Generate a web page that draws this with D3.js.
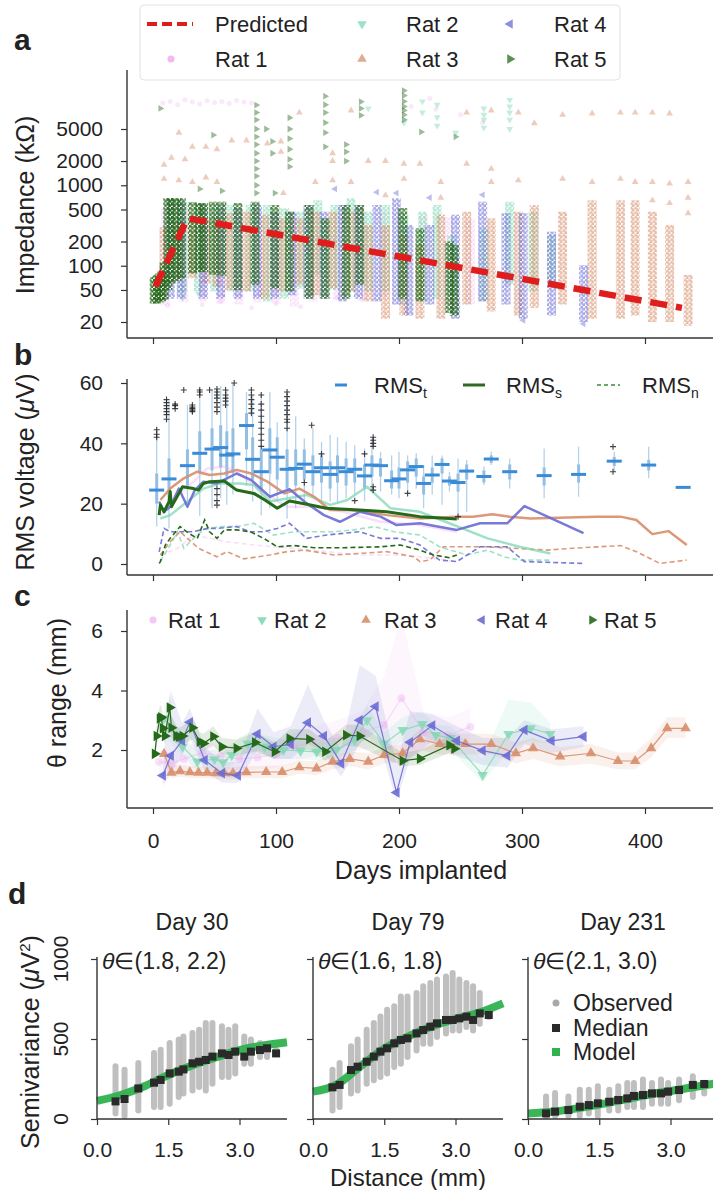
<!DOCTYPE html>
<html>
<head>
<meta charset="utf-8">
<script src="https://cdn.jsdelivr.net/npm/d3@7"></script>
<style>
body { margin: 0; background: #fff; }
svg text { font-family: "Liberation Sans", Arial, Helvetica, sans-serif; fill: #222; }
</style>
</head>
<body>
<div id="figure"></div>
<script>
// ---- shared ----
var dayTicks = [0, 100, 200, 300, 400];
var ratNames = ['Rat 1', 'Rat 2', 'Rat 3', 'Rat 4', 'Rat 5'];
var ratColors = ['#eda3ee', '#7fd7b3', '#d78e6b', '#6a6cd3', '#25691a'];

// ---- panel a: impedance ----
var impTicks = [20, 50, 100, 200, 500, 1000, 2000, 5000];
var predictedDays = [2, 28, 430];
var predictedKOhm = [55, 390, 30];

var impDays1 = [10, 25, 40, 55, 70, 85, 100, 115, 130, 150, 170, 188, 202, 220, 240, 258];
var impLo1 = [32, 35, 36, 34, 33, 35, 34, 31, 36, 38, 37, 40, 38, 36, 35, 33];
var impHi1 = [520, 560, 540, 500, 480, 500, 470, 450, 480, 440, 460, 470, 430, 420, 400, 380];
var impDays2 = [24, 37, 50, 64, 79, 93, 107, 120, 134, 148, 161, 175, 189, 204, 219, 231, 243, 269, 290, 309, 324];
var impLo2 = [46, 48, 48, 48, 48, 36, 39, 52, 77, 50, 48, 48, 48, 33, 36, 39, 43, 36, 58, 48, 63];
var impHi2 = [625, 568, 568, 568, 568, 568, 518, 470, 650, 568, 689, 470, 568, 430, 470, 568, 241, 292, 625, 470, 241];
var impDays3 = [9, 21, 32, 43, 52, 62, 76, 91, 105, 119, 132, 146, 161, 175, 189, 204, 217, 234, 255, 275, 297, 310, 333, 357, 380, 392, 406, 420, 435];
var impLo3 = [60, 65, 70, 60, 55, 50, 48, 39, 48, 58, 43, 52, 48, 36, 22, 24, 22, 22, 33, 27, 24, 30, 33, 22, 22, 24, 20, 20, 18];
var impHi3 = [300, 350, 400, 380, 420, 450, 470, 430, 388, 388, 470, 470, 470, 321, 321, 241, 181, 430, 470, 388, 470, 568, 470, 650, 650, 650, 470, 321, 77];
var impDays4 = [14, 23, 41, 55, 69, 85, 99, 113, 126, 139, 154, 167, 182, 198, 208, 225, 246, 268, 287, 301, 324, 350];
var impLo4 = [39, 39, 39, 39, 39, 39, 39, 43, 39, 39, 36, 39, 36, 33, 24, 33, 22, 36, 33, 22, 24, 20];
var impHi4 = [689, 625, 568, 568, 518, 568, 470, 470, 568, 470, 568, 568, 568, 689, 321, 321, 430, 625, 449, 449, 265, 102];
var impDays5 = [1, 3, 5, 7, 9, 12, 15, 19, 23, 32, 38, 41, 49, 56, 69, 83, 99, 111, 127, 140, 157, 168, 203, 217, 241, 245];
var impLo5 = [34, 34, 35, 36, 38, 50, 60, 65, 70, 80, 84, 84, 77, 75, 50, 58, 52, 48, 39, 39, 39, 58, 39, 36, 26, 24];
var impHi5 = [72, 76, 80, 85, 110, 690, 690, 690, 690, 620, 600, 600, 625, 625, 600, 625, 568, 470, 568, 388, 568, 568, 520, 292, 200, 180];

var impOut1 = [[8, 10500], [14, 11000], [20, 10000], [26, 11500], [32, 10800], [38, 10200], [44, 11200], [50, 10600], [56, 11000], [62, 10400], [68, 11300], [74, 10800], [80, 10500], [12, 32], [40, 33], [55, 36], [80, 30], [100, 34], [120, 31], [210, 9500], [230, 8800], [250, 7500], [268, 6000], [225, 12000], [150, 40], [170, 38]];
var impOut2 = [[219, 11000], [219, 8000], [231, 10000], [231, 7000], [231, 5500], [246, 4500], [269, 9000], [269, 7500], [269, 6500], [269, 5200], [290, 11500], [290, 9500], [290, 8000], [290, 6500], [290, 5000], [175, 9000], [204, 6000], [24, 40], [37, 45]];
var impOut3 = [[119, 8000], [161, 8500], [255, 8000], [275, 8500], [297, 8000], [333, 7500], [357, 7800], [380, 8000], [392, 8000], [406, 8000], [420, 7800], [310, 5900],
  [175, 2000], [189, 2000], [204, 1850], [217, 1850], [255, 1850], [275, 1600],
  [9, 1200], [21, 1150], [32, 1100], [43, 1250], [52, 1100], [132, 1100], [146, 1150], [161, 1100], [204, 1200], [234, 1100], [275, 1100], [297, 1150], [333, 1200], [357, 1100], [380, 1200], [392, 1100], [406, 1100], [420, 1050], [435, 1100],
  [21, 4500], [32, 3000], [43, 3000], [52, 2800], [64, 3600], [76, 3600], [93, 3300], [104, 3500], [104, 2600], [146, 2500], [146, 2000], [9, 1800], [15, 2200], [26, 2100],
  [106, 800], [189, 750], [234, 700], [435, 700], [435, 450], [420, 600], [406, 650]];
var impOut4 = [[198, 800], [225, 700], [268, 760], [148, 900], [182, 820], [350, 19], [301, 21]];
var impOut5 = [[6, 9000], [84, 9900], [84, 8000], [84, 6500], [84, 5000], [84, 4000], [84, 3200], [84, 2500], [84, 2000], [84, 1600], [84, 1300], [84, 1000], [84, 800],
  [111, 6900], [111, 5000], [111, 3800], [111, 2800], [111, 2100], [111, 1700], [140, 12800], [140, 10000], [140, 8000], [140, 6000], [140, 4500], [140, 3000],
  [157, 3200], [157, 2600], [157, 2000], [169, 10900], [169, 9000], [169, 7400], [204, 15000], [204, 13000], [204, 11000], [204, 9500], [204, 8500], [204, 7500], [204, 6500],
  [218, 4600], [246, 4000], [49, 4200], [92, 5000], [97, 3500], [97, 2500], [99, 800], [38, 900], [56, 850]];

// ---- panel b: RMS ----
var rmsTicks = [0, 20, 40, 60];
var boxDays = [3, 13, 28, 38, 48, 55, 60, 65, 76, 81, 88, 95, 101, 109, 116, 123, 130, 137, 144, 150, 157, 164, 172, 178, 185, 194, 200, 207, 214, 220, 227, 235, 241, 248, 255, 269, 275, 290, 318, 346, 375, 403, 431];
var boxMedian = [24.5, 28.2, 32.6, 36.7, 38.1, 38.6, 36.1, 36.5, 45.9, 34.7, 30.6, 37.8, 35.4, 31.4, 31.7, 33.1, 30.6, 31.9, 29.7, 31.9, 30.6, 31.4, 29.2, 32.8, 32.6, 27.6, 28.2, 31.2, 32.3, 26.7, 29.5, 33.0, 27.5, 27.0, 30.8, 29.0, 34.8, 30.6, 29.3, 29.7, 34.1, 32.8, 25.4];
var boxQ1 = [20, 22, 26, 30, 31, 32, 29, 30, 38, 28, 25, 30, 28, 25, 26, 28, 26, 27, 25, 27, 26, 27, 25, 29, 29, 25, 25, 27, 29, 23, 27, 30, 26, 24, 28, 27, 33.5, 28, 26, 27, 32.5, 31, 25.4];
var boxQ3 = [30, 35, 38, 44, 45, 46, 44, 45, 50, 42, 38, 45, 42, 38, 38, 38, 36, 36, 34, 36, 35, 35, 33, 36, 35, 31, 32, 34, 35, 29, 32, 35, 29, 30, 33, 31, 36, 33, 32, 33, 35.5, 34.5, 25.4];
var boxLo = [12.4, 11.8, 18.5, 16, 18.5, 21.8, 19.6, 23, 26, 20.7, 16.2, 18.5, 20.7, 15, 18.5, 20.7, 21.8, 20.7, 20.7, 20, 21.8, 23, 20.7, 24, 24, 23, 21.8, 23.4, 25, 18.5, 23, 19.6, 24, 16.2, 17.3, 26.2, 32.8, 25, 21.8, 22.3, 30.6, 28.4, 25.4];
var boxHi = [45, 54, 52.7, 58, 58, 59, 57.7, 60, 57, 56, 56.5, 57, 47, 57, 49, 41.6, 45, 40.5, 42.8, 42, 40.5, 39.4, 38.3, 41.6, 37.2, 36, 37.2, 36, 36.7, 32.8, 36, 36, 30.6, 35, 34.5, 32.3, 37.2, 35, 38.3, 38.9, 37.2, 38.9, 25.4];
var fliers = [[3, 42], [3, 43], [3, 44.5], [11, 48], [11, 49.5], [11, 50.5], [11, 51.5], [11, 52.5], [11, 53.5], [11, 54.5], [18, 51.5], [18, 52.5], [18, 53], [25, 57.7],
  [32, 50.5], [32, 51], [32, 51.5], [32, 52], [32, 52.7], [38, 56], [38, 57], [38, 57.7], [46, 57.7], [52, 19.5], [52, 21], [52, 23], [52, 25],
  [52, 50.5], [52, 52], [52, 53.5], [52, 55], [52, 56], [52, 57], [52, 58], [59, 52.7], [59, 54], [59, 55], [59, 56], [59, 57.7], [66, 60],
  [80, 50], [80, 51.5], [80, 53], [80, 54.5], [80, 56], [80, 57.7], [88, 39], [88, 41], [88, 43], [88, 45], [88, 47], [88, 49], [88, 51], [88, 53], [88, 56],
  [109, 45], [109, 47], [109, 48], [109, 49.5], [109, 51], [109, 52.5], [109, 54], [109, 55.5], [109, 57], [123, 27], [129, 46], [137, 36.5], [164, 21], [172, 36.5],
  [179, 39], [179, 40], [179, 41], [179, 42], [179, 24.5], [179, 25.6], [207, 23.4], [248, 15.7], [374, 38.9], [374, 30.6]];

var rmsSDays1 = [6, 20, 33, 44, 58, 68, 93, 109, 131, 155, 185, 217, 247];
var rmsSVals1 = [16.2, 22.9, 27.3, 31.7, 32.3, 30.6, 22.9, 19, 19, 17.3, 14, 12.9, 10.7];
var rmsSDays2 = [6, 14, 28, 41, 54, 71, 82, 95, 125, 144, 158, 174, 193, 217, 241, 272, 298, 323];
var rmsSVals2 = [15.1, 16.2, 20.7, 25, 26.7, 26.7, 26.2, 20.7, 22.9, 19.6, 21.2, 25.6, 18.5, 17.3, 13.5, 8.5, 5.7, 3.5];
var rmsSDays3 = [6, 14, 25, 36, 46, 58, 68, 80, 93, 107, 119, 131, 144, 158, 174, 190, 217, 247, 260, 276, 290, 307, 337, 361, 380, 393, 406, 419, 434];
var rmsSVals3 = [21.2, 25, 28.4, 30.6, 29.5, 30, 31.2, 30, 27.3, 23.4, 25, 22.3, 17.9, 17.9, 17.3, 16.2, 15.1, 15.7, 15.7, 16.5, 15.7, 15.1, 15.4, 15.7, 15.7, 14.6, 9.9, 10.9, 6.3];
var rmsSDays4 = [5, 9, 14, 21, 28, 34, 41, 52, 68, 80, 95, 111, 125, 139, 152, 168, 185, 198, 217, 247, 266, 288, 302, 350];
var rmsSVals4 = [20.7, 17.3, 19, 25, 19, 24.5, 27.3, 26.7, 30, 27.8, 22.3, 24.8, 20.1, 16.2, 14, 17.3, 15.7, 12.9, 13.5, 11.3, 13.5, 13.5, 19.2, 10.2];
var rmsSDays5 = [5, 6, 9, 13, 14, 15, 24, 33, 37, 41, 46, 58, 68, 82, 91, 101, 111, 125, 141, 168, 190, 217, 247];
var rmsSVals5 = [16.2, 19.6, 17.3, 20.7, 24, 19, 25.6, 25, 24.5, 26.7, 27.3, 27.5, 24.5, 23.4, 21.2, 18.5, 20.9, 19.8, 18.5, 17.9, 17.3, 15.7, 14.9];

var rmsNDays1 = [6, 20, 33, 60, 82, 115, 141, 168, 196, 217, 247];
var rmsNVals1 = [3.0, 5.2, 9.6, 7.4, 6.3, 5.2, 4.1, 3.0, 3.0, 2.4, 0.8];
var rmsNDays2 = [6, 14, 20, 25, 33, 41, 54, 68, 82, 98, 115, 131, 147, 163, 180, 196, 217, 233, 255, 272, 285, 298, 323];
var rmsNVals2 = [0.8, 6.3, 10.7, 5.2, 8.5, 11.3, 12.4, 12.4, 13.5, 9.6, 10.7, 10.7, 10.7, 11.3, 12.4, 10.7, 9.6, 5.7, 3.0, 4.6, 2.4, 1.3, 1.3];
var rmsNDays3 = [6, 14, 22, 37, 52, 60, 74, 95, 109, 123, 131, 147, 168, 190, 212, 217, 225, 236, 272, 320, 341, 380, 393, 412, 434];
var rmsNVals3 = [3.0, 7.4, 10.7, 5.2, 2.4, 4.1, 1.7, 3.0, 4.1, 4.6, 4.1, 3.0, 3.5, 4.1, 2.4, 0.8, 1.3, 5.7, 5.7, 4.6, 5.2, 6.1, 4.1, 0.2, 1.3];
var rmsNDays4 = [5, 9, 14, 22, 33, 44, 52, 68, 79, 90, 101, 111, 125, 141, 168, 185, 201, 217, 233, 247, 266, 288, 302, 350];
var rmsNVals4 = [4, 11.8, 10.7, 10.7, 10.7, 11.8, 11.8, 12.4, 10.7, 10.7, 11.8, 13.5, 8.5, 9.6, 10.7, 8.5, 8.5, 6.3, 1.3, 0.8, 5.7, 5.7, 0.8, 0.2];
var rmsNDays5 = [5, 6, 10, 14, 22, 29, 36, 42, 46, 52, 58, 68, 79, 90, 101, 115, 131, 155, 185, 201, 217, 228, 241, 247];
var rmsNVals5 = [0.2, 0.8, 6.3, 8.5, 12.4, 10.2, 8.5, 14.6, 10.7, 8.5, 11.3, 11.3, 10.7, 8.5, 5.7, 6.1, 5.4, 5.4, 5.7, 6.3, 4.6, 3.0, 2.1, 3.0];

// ---- panel c: theta range ----
var thetaTicks = [2, 4, 6];
var thDays1 = [5, 15, 25, 40, 55, 70, 85, 100, 115, 130, 150, 170, 188, 202, 220, 240, 258];
var thVals1 = [1.6, 1.55, 1.7, 1.9, 1.8, 1.7, 1.75, 1.85, 2.1, 2.3, 2.4, 2.6, 2.84, 3.74, 2.6, 2.5, 2.78];
var thLo1 = [1.2, 1.2, 1.3, 1.5, 1.4, 1.3, 1.35, 1.4, 1.6, 1.8, 1.9, 2.0, 2.2, 1.5, 2.0, 2.0, 2.2];
var thHi1 = [2.0, 1.9, 2.1, 2.3, 2.2, 2.1, 2.15, 2.3, 2.6, 2.8, 3.0, 3.3, 4.5, 6.5, 3.3, 3.1, 3.4];
var thDays2 = [9, 24, 36, 50, 57, 64, 77, 91, 106, 120, 133, 149, 164, 174, 188, 203, 219, 230, 242, 268, 289, 307, 323];
var thVals2 = [3.06, 2.11, 1.61, 1.69, 1.59, 1.83, 2.22, 2.11, 2.0, 1.97, 1.94, 2.0, 2.34, 3.0, 2.22, 2.67, 2.87, 2.5, 2.4, 1.16, 2.54, 2.73, 2.54];
var thLo2 = [2.5, 1.8, 1.3, 1.4, 1.3, 1.5, 1.9, 1.8, 1.7, 1.7, 1.65, 1.7, 2.0, 2.5, 1.9, 2.3, 2.5, 2.2, 2.0, 0.9, 2.0, 2.3, 2.2];
var thHi2 = [3.6, 2.5, 2.0, 2.0, 1.9, 2.2, 2.6, 2.5, 2.35, 2.3, 2.25, 2.35, 2.7, 3.5, 2.6, 3.1, 3.3, 2.85, 2.8, 1.7, 3.7, 3.6, 2.9];
var thDays3 = [9, 15, 22, 30, 37, 44, 51, 58, 65, 76, 92, 105, 119, 133, 146, 160, 175, 188, 203, 217, 233, 254, 275, 295, 309, 331, 356, 378, 392, 405, 418, 433];
var thVals3 = [1.87, 1.24, 1.29, 1.25, 1.24, 1.24, 1.22, 1.22, 1.22, 1.25, 1.26, 1.26, 1.42, 1.38, 1.61, 1.70, 1.61, 1.83, 1.89, 2.36, 2.2, 2.2, 2.2, 1.89, 2.06, 1.78, 1.89, 1.63, 1.63, 2.06, 2.73, 2.73];
var thLo3 = [1.6, 1.05, 1.1, 1.05, 1.05, 1.05, 1.02, 1.02, 1.02, 1.05, 1.06, 1.05, 1.2, 1.15, 1.35, 1.45, 1.35, 1.55, 1.6, 2.0, 1.85, 1.85, 1.85, 1.55, 1.7, 1.45, 1.55, 1.35, 1.35, 1.75, 2.4, 2.4];
var thHi3 = [2.1, 1.45, 1.5, 1.45, 1.45, 1.45, 1.42, 1.42, 1.42, 1.45, 1.47, 1.48, 1.65, 1.62, 1.85, 1.95, 1.88, 2.1, 2.2, 2.7, 2.55, 2.55, 2.55, 2.25, 2.4, 2.1, 2.2, 1.92, 1.92, 2.4, 3.1, 3.1];
var thDays4 = [8, 14.5, 23.6, 30, 42, 56, 69, 85, 98, 112, 126, 139, 153, 168, 181, 198, 209, 227, 247, 268, 288, 302, 324, 350];
var thVals4 = [1.14, 1.81, 2.31, 2.93, 1.66, 1.22, 1.14, 2.54, 2.11, 2.19, 2.92, 2.47, 1.55, 3.0, 3.46, 0.57, 2.26, 2.82, 2.31, 1.98, 1.81, 2.67, 2.31, 2.45];
var thLo4 = [0.8, 1.2, 1.8, 2.4, 1.3, 0.9, 0.9, 2.0, 1.7, 1.7, 2.2, 1.9, 1.1, 2.2, 2.6, 0.3, 1.7, 2.3, 1.8, 1.5, 1.4, 2.2, 1.9, 2.1];
var thHi4 = [1.6, 4.0, 2.9, 3.4, 2.1, 1.6, 1.6, 3.4, 2.6, 2.8, 4.2, 3.0, 2.0, 4.85, 4.5, 1.5, 3.3, 3.2, 2.8, 2.4, 2.4, 3.0, 2.7, 2.8];
var thDays5 = [1.5, 3, 5.5, 6.7, 8, 9.7, 13.6, 15, 19, 21, 24, 32, 38, 41, 49, 56, 68, 83, 99, 111, 127, 140, 157, 168, 203, 217, 241, 245];
var thVals5 = [1.87, 2.47, 3.06, 3.1, 2.73, 2.47, 3.43, 2.75, 2.47, 2.45, 2.47, 2.75, 2.28, 2.22, 2.45, 2.11, 2.06, 2.25, 1.94, 2.39, 2.36, 1.94, 2.5, 2.47, 1.64, 1.71, 2.16, 2.04];
var thLo5 = [1.6, 2.1, 2.6, 2.7, 2.4, 2.2, 2.9, 2.4, 2.2, 2.2, 2.2, 2.35, 2.0, 1.95, 2.15, 1.85, 1.8, 1.95, 1.7, 2.05, 2.0, 1.65, 2.15, 2.1, 1.45, 1.5, 1.9, 1.8];
var thHi5 = [2.2, 2.9, 3.5, 3.5, 3.1, 2.8, 3.9, 3.15, 2.8, 2.75, 2.8, 3.1, 2.6, 2.55, 2.8, 2.4, 2.35, 2.6, 2.25, 2.7, 2.7, 2.3, 2.85, 2.85, 1.9, 2.0, 2.45, 2.3];

// ---- panel d: semivariograms ----
var semiTicks = [0, 500, 1000];
var distTicks = [0, 1.5, 3.0];
var modelDist = [0, 0.5, 1, 1.5, 2, 2.5, 3, 3.5, 4];
var d30Model = [113, 150, 205, 275, 335, 385, 430, 460, 480];
var d79Model = [171, 215, 330, 440, 515, 578, 625, 665, 723];
var d231Model = [35, 45, 65, 90, 120, 150, 175, 200, 225];
var d30Dist = [0.39, 0.58, 0.87, 1.2, 1.34, 1.53, 1.72, 1.82, 2.01, 2.15, 2.29, 2.43, 2.63, 2.77, 2.91, 3.1, 3.24, 3.43, 3.58, 3.77];
var d30Median = [110, 125, 191, 227, 244, 285, 296, 310, 348, 358, 369, 390, 410, 400, 421, 390, 421, 431, 442, 410];
var d30ObsLo = [15, 0, 35, 56, 56, 77, 119, 140, 160, 181, 160, 202, 244, 244, 265, 327, 327, 369, 369, 390];
var d30ObsHi = [348, 327, 369, 431, 452, 494, 515, 535, 556, 577, 619, 619, 598, 577, 598, 535, 515, 494, 473, 452];
var d79Dist = [0.41, 0.56, 0.8, 0.94, 1.13, 1.28, 1.42, 1.56, 1.71, 1.85, 1.99, 2.18, 2.32, 2.47, 2.61, 2.8, 2.94, 3.08, 3.23, 3.37, 3.51, 3.7];
var d79Median = [198, 213, 306, 327, 358, 390, 421, 442, 473, 494, 504, 535, 556, 577, 598, 619, 619, 629, 640, 619, 660, 650];
var d79ObsLo = [35, 56, 140, 160, 202, 223, 244, 265, 306, 327, 369, 410, 452, 452, 494, 515, 535, 535, 556, 535, 577, 619];
var d79ObsHi = [327, 369, 473, 515, 577, 619, 660, 702, 723, 785, 785, 806, 848, 869, 890, 910, 931, 890, 869, 848, 806, 702];
var d231Dist = [0.38, 0.57, 0.85, 1.09, 1.28, 1.47, 1.71, 1.9, 2.09, 2.23, 2.42, 2.61, 2.8, 2.95, 3.18, 3.47, 3.71];
var d231Median = [35, 46, 56, 77, 87, 98, 108, 119, 129, 144, 150, 160, 160, 171, 181, 213, 219];
var d231ObsLo = [0, 0, 0, 0, 15, 0, 35, 35, 56, 56, 56, 77, 77, 77, 98, 119, 140];
var d231ObsHi = [160, 181, 160, 202, 202, 223, 202, 223, 244, 244, 265, 244, 265, 244, 265, 286, 244];

var svg, defs;
var x = d3.scaleLinear().domain([0, 400]).range([153, 645]);
var ratRotate = [0, 180, 0, -90, 90];
var inkColor = '#333';

function ratSymbol(i, size) {
  return d3.symbol().type(i === 0 ? d3.symbolCircle : d3.symbolTriangle).size(size)();
}

function zip(a, b) {
  return a.map(function(v, i) { return [v, b[i]]; });
}

var figure = {
  init: function() {
    svg = d3.select('#figure').append('svg').attr('width', 713).attr('height', 1190);
    defs = svg.append('defs');
    figure.panelLabels();
    figure.drawImpedance();
    figure.drawRms();
    figure.drawTheta();
    figure.drawVariograms();
  },
  panelLabels: function() {
    [['a', 14, 50], ['b', 14, 365], ['c', 14, 606], ['d', 8, 904]].forEach(function(l) {
      svg.append('text').attr('x', l[1]).attr('y', l[2]).attr('font-size', 30)
        .attr('font-weight', 'bold').text(l[0]);
    });
  },
  xAxis: function(yPos, labels) {
    var ax = svg.append('g').attr('transform', 'translate(0,' + yPos + ')')
      .call(d3.axisBottom(x).tickValues(dayTicks).tickSize(6).tickPadding(19)
        .tickFormat(labels ? d3.format('d') : function() { return ''; }));
    ax.select('.domain').remove();
    ax.selectAll('line').attr('stroke', inkColor).attr('stroke-width', 1.2);
    ax.selectAll('text').attr('font-size', 21).attr('fill', '#333');
    svg.append('line').attr('x1', 127).attr('x2', 713).attr('y1', yPos).attr('y2', yPos)
      .attr('stroke', inkColor).attr('stroke-width', 1.4);
  },
  yAxis: function(scale, ticks, fmt, top, bottom) {
    var ax = svg.append('g').attr('transform', 'translate(127,0)')
      .call(d3.axisLeft(scale).tickValues(ticks).tickSize(6).tickPadding(18).tickFormat(fmt));
    ax.select('.domain').remove();
    ax.selectAll('line').attr('stroke', inkColor).attr('stroke-width', 1.2);
    ax.selectAll('text').attr('font-size', 21).attr('fill', '#333');
    svg.append('line').attr('x1', 127).attr('x2', 127).attr('y1', top).attr('y2', bottom)
      .attr('stroke', inkColor).attr('stroke-width', 1.4);
  },
  yLabel: function(cx, cy, parts) {
    var t = svg.append('text').attr('transform', 'translate(' + cx + ',' + cy + ') rotate(-90)')
      .attr('text-anchor', 'middle').attr('dy', '0.35em').attr('font-size', 25);
    parts.forEach(function(p) {
      var s = t.append('tspan').text(p[0]);
      if (p[1] === 'i') s.attr('font-style', 'italic');
      if (p[1] === 'sup') s.attr('font-size', 15).attr('dy', -9);
      if (p[1] === 'back') s.attr('dy', 9);
    });
  },
  drawImpedance: function() {
    var y = d3.scaleLog().domain([20, 5000]).range([322, 129]);
    defs.append('clipPath').attr('id', 'clipA').append('rect')
      .attr('x', 128).attr('y', 70).attr('width', 600).attr('height', 268);
    ratColors.forEach(function(c, i) {
      var p = defs.append('pattern').attr('id', 'colPat' + i).attr('patternUnits', 'userSpaceOnUse')
        .attr('width', 4.5).attr('height', 4.5);
      [[1.2, 1.2], [3.4, 3.4]].forEach(function(o) {
        p.append('path').attr('d', ratSymbol(i, 9))
          .attr('transform', 'translate(' + o[0] + ',' + o[1] + ') rotate(' + ratRotate[i] + ')').attr('fill', c);
      });
    });

    var plot = svg.append('g').attr('clip-path', 'url(#clipA)');
    var cols = [[impDays1, impLo1, impHi1], [impDays2, impLo2, impHi2], [impDays3, impLo3, impHi3], [impDays4, impLo4, impHi4], [impDays5, impLo5, impHi5]];
    var outs = [impOut1, impOut2, impOut3, impOut4, impOut5];
    var colOp = [0.3, 0.6, 0.6, 0.6, 0.8];
    cols.forEach(function(set, i) {
      plot.append('g').selectAll('rect').data(set[0]).enter().append('rect')
        .attr('x', function(d) { return x(d) - 4.5; })
        .attr('width', 9)
        .attr('y', function(d, j) { return y(set[2][j]); })
        .attr('height', function(d, j) { return y(set[1][j]) - y(set[2][j]); })
        .attr('fill', 'url(#colPat' + i + ')')
        .attr('opacity', colOp[i]);
      plot.append('g').selectAll('path').data(outs[i]).enter().append('path')
        .attr('d', ratSymbol(i, 20))
        .attr('transform', function(d) { return 'translate(' + x(d[0]) + ',' + y(d[1]) + ') rotate(' + ratRotate[i] + ')'; })
        .attr('fill', ratColors[i])
        .attr('opacity', i === 0 ? 0.25 : 0.45);
    });

    plot.append('path').datum(zip(predictedDays, predictedKOhm))
      .attr('d', d3.line().x(function(d) { return x(d[0]); }).y(function(d) { return y(d[1]); }))
      .attr('fill', 'none').attr('stroke', '#e01d1d').attr('stroke-width', 6.5)
      .attr('stroke-dasharray', '17,9');

    figure.yAxis(y, impTicks, d3.format('d'), 70, 338);
    figure.xAxis(338, false);
    figure.yLabel(25, 205, [['Impedance (kΩ)']]);

    // legend
    var lg = svg.append('g');
    lg.append('rect').attr('x', 140).attr('y', 5).attr('width', 480).attr('height', 75).attr('rx', 4)
      .attr('fill', '#fff').attr('fill-opacity', 0.85).attr('stroke', '#e2e2e2');
    lg.append('line').attr('x1', 147).attr('x2', 193).attr('y1', 24).attr('y2', 24)
      .attr('stroke', '#e01d1d').attr('stroke-width', 4).attr('stroke-dasharray', '10,5');
    lg.append('text').attr('x', 215).attr('y', 32).attr('font-size', 22).text('Predicted');
    var slots = [[171, 59], [362, 24], [362, 59], [510, 24], [510, 59]];
    ratNames.forEach(function(n, i) {
      lg.append('path').attr('d', ratSymbol(i, 40))
        .attr('transform', 'translate(' + slots[i][0] + ',' + slots[i][1] + ') rotate(' + ratRotate[i] + ')')
        .attr('fill', ratColors[i]).attr('opacity', 0.75);
      lg.append('text').attr('x', slots[i][0] + 44).attr('y', slots[i][1] + 8)
        .attr('font-size', 22).text(n);
    });
  },
  drawRms: function() {
    var y = d3.scaleLinear().domain([0, 60]).range([564, 383]);
    var g = svg.append('g');
    boxDays.forEach(function(d, i) {
      g.append('line').attr('x1', x(d)).attr('x2', x(d)).attr('y1', y(boxLo[i])).attr('y2', y(boxHi[i]))
        .attr('stroke', '#b3d2ec').attr('stroke-width', 1.3);
      g.append('line').attr('x1', x(d)).attr('x2', x(d)).attr('y1', y(boxQ1[i])).attr('y2', y(boxQ3[i]))
        .attr('stroke', '#93bfe4').attr('stroke-width', 3);
    });

    var line = d3.line().x(function(d) { return x(d[0]); }).y(function(d) { return y(d[1]); });
    var sSets = [[rmsSDays1, rmsSVals1], [rmsSDays2, rmsSVals2], [rmsSDays3, rmsSVals3], [rmsSDays4, rmsSVals4], [rmsSDays5, rmsSVals5]];
    var nSets = [[rmsNDays1, rmsNVals1], [rmsNDays2, rmsNVals2], [rmsNDays3, rmsNVals3], [rmsNDays4, rmsNVals4], [rmsNDays5, rmsNVals5]];
    var opac = [0.35, 0.75, 0.9, 0.9, 1];
    nSets.forEach(function(s, i) {
      g.append('path').datum(zip(s[0], s[1])).attr('d', line).attr('fill', 'none')
        .attr('stroke', ratColors[i]).attr('stroke-width', 1.6).attr('stroke-dasharray', '5,3')
        .attr('opacity', opac[i]);
    });
    sSets.forEach(function(s, i) {
      g.append('path').datum(zip(s[0], s[1])).attr('d', line).attr('fill', 'none')
        .attr('stroke', ratColors[i]).attr('stroke-width', i === 4 ? 3 : 2.5)
        .attr('stroke-linejoin', 'round').attr('opacity', opac[i]);
    });

    boxDays.forEach(function(d, i) {
      g.append('line').attr('x1', x(d) - 7.5).attr('x2', x(d) + 7.5).attr('y1', y(boxMedian[i])).attr('y2', y(boxMedian[i]))
        .attr('stroke', '#3a8ad6').attr('stroke-width', 3);
    });
    g.selectAll('.flier').data(fliers).enter().append('path').attr('class', 'flier')
      .attr('d', 'M-3,0H3M0,-3V3')
      .attr('transform', function(d) { return 'translate(' + x(d[0]) + ',' + y(d[1]) + ')'; })
      .attr('stroke', '#222').attr('stroke-width', 1.1).attr('opacity', 0.85);

    figure.yAxis(y, rmsTicks, d3.format('d'), 379, 575);
    figure.xAxis(575, false);
    figure.yLabel(25, 472, [['RMS voltage ('], ['μ', 'i'], ['V)']]);

    // legend
    var items = [['#3a8ad6', 3, null, 335, 347, 374, 't'], ['#2e6b22', 3, null, 463, 485, 506, 's'], ['#3b8a34', 1.5, '4,3', 597, 620, 642, 'n']];
    items.forEach(function(it) {
      svg.append('line').attr('x1', it[3]).attr('x2', it[4]).attr('y1', 385).attr('y2', 385)
        .attr('stroke', it[0]).attr('stroke-width', it[1]).attr('stroke-dasharray', it[2]);
      var t = svg.append('text').attr('x', it[5]).attr('y', 393).attr('font-size', 22);
      t.append('tspan').text('RMS');
      t.append('tspan').attr('font-size', 14).attr('dy', 5).text(it[6]);
    });
  },
  drawTheta: function() {
    var y = d3.scaleLinear().domain([2, 6]).range([750, 631]);
    var sets = [[thDays1, thVals1, thLo1, thHi1], [thDays2, thVals2, thLo2, thHi2], [thDays3, thVals3, thLo3, thHi3], [thDays4, thVals4, thLo4, thHi4], [thDays5, thVals5, thLo5, thHi5]];
    var g = svg.append('g');
    var area = d3.area().x(function(d) { return x(d[0]); }).y0(function(d) { return y(d[1]); }).y1(function(d) { return y(d[2]); });
    var line = d3.line().x(function(d) { return x(d[0]); }).y(function(d) { return y(d[1]); });
    sets.forEach(function(s, i) {
      var band = s[0].map(function(d, j) { return [d, s[2][j], s[3][j]]; });
      g.append('path').datum(band).attr('d', area).attr('fill', ratColors[i])
        .attr('opacity', i === 0 ? 0.1 : 0.13);
    });
    var lineOp = [0.35, 0.8, 0.9, 0.9, 1];
    sets.forEach(function(s, i) {
      g.append('path').datum(zip(s[0], s[1])).attr('d', line).attr('fill', 'none')
        .attr('stroke', ratColors[i]).attr('stroke-width', 1.2).attr('opacity', lineOp[i]);
      g.append('g').selectAll('path').data(zip(s[0], s[1])).enter().append('path')
        .attr('d', ratSymbol(i, 48))
        .attr('transform', function(d) { return 'translate(' + x(d[0]) + ',' + y(d[1]) + ') rotate(' + ratRotate[i] + ')'; })
        .attr('fill', ratColors[i]).attr('opacity', lineOp[i]);
    });

    figure.yAxis(y, thetaTicks, d3.format('d'), 610, 808);
    figure.xAxis(808, true);
    figure.yLabel(57, 693, [['θ range (mm)']]);
    svg.append('text').attr('x', 421).attr('y', 879).attr('text-anchor', 'middle').attr('font-size', 25)
      .text('Days implanted');

    var slots = [[153, 168], [262, 274], [366, 384], [482, 495], [592, 604]];
    ratNames.forEach(function(n, i) {
      svg.append('path').attr('d', ratSymbol(i, 40))
        .attr('transform', 'translate(' + slots[i][0] + ',620) rotate(' + ratRotate[i] + ')')
        .attr('fill', ratColors[i]).attr('opacity', i === 0 ? 0.6 : 0.9);
      svg.append('text').attr('x', slots[i][1]).attr('y', 628).attr('font-size', 22).text(n);
    });
  },
  drawVariograms: function() {
    var y = d3.scaleLinear().domain([0, 1000]).range([1119, 959]);
    var subs = [
      {title: 'Day 30', theta: '(1.8, 2.2)', x0: 97, dist: d30Dist, med: d30Median, lo: d30ObsLo, hi: d30ObsHi, model: d30Model},
      {title: 'Day 79', theta: '(1.6, 1.8)', x0: 313, dist: d79Dist, med: d79Median, lo: d79ObsLo, hi: d79ObsHi, model: d79Model},
      {title: 'Day 231', theta: '(2.1, 3.0)', x0: 528, dist: d231Dist, med: d231Median, lo: d231ObsLo, hi: d231ObsHi, model: d231Model}
    ];

    subs.forEach(function(s, k) {
      var xs = d3.scaleLinear().domain([0, 4]).range([s.x0, s.x0 + 190]);
      var g = svg.append('g');
      g.selectAll('.obs').data(s.dist).enter().append('rect').attr('class', 'obs')
        .attr('x', function(d) { return xs(d) - 3; }).attr('width', 6).attr('rx', 3)
        .attr('y', function(d, j) { return y(s.hi[j]); })
        .attr('height', function(d, j) { return y(s.lo[j]) - y(s.hi[j]); })
        .attr('fill', '#b4b4b4').attr('opacity', 0.85);
      g.append('path').datum(zip(modelDist, s.model))
        .attr('d', d3.line().curve(d3.curveMonotoneX).x(function(d) { return xs(d[0]); }).y(function(d) { return y(d[1]); }))
        .attr('fill', 'none').attr('stroke', '#2fb24f').attr('stroke-width', 8).attr('opacity', 0.95);
      g.selectAll('.med').data(s.dist).enter().append('rect').attr('class', 'med')
        .attr('x', function(d) { return xs(d) - 4; }).attr('width', 8)
        .attr('y', function(d, j) { return y(s.med[j]) - 4; }).attr('height', 8)
        .attr('fill', '#2a2a2a');

      var ax = svg.append('g').attr('transform', 'translate(0,1119)')
        .call(d3.axisBottom(xs).tickValues(distTicks).tickSize(6).tickPadding(17).tickFormat(d3.format('.1f')));
      ax.select('.domain').remove();
      ax.selectAll('line').attr('stroke', inkColor).attr('stroke-width', 1.2);
      ax.selectAll('text').attr('font-size', 21).attr('fill', '#333');
      svg.append('line').attr('x1', s.x0).attr('x2', s.x0 + 190).attr('y1', 1119).attr('y2', 1119)
        .attr('stroke', inkColor).attr('stroke-width', 1.4);
      var ay = svg.append('g').attr('transform', 'translate(' + s.x0 + ',0)')
        .call(d3.axisLeft(y).tickValues(semiTicks).tickSize(6).tickFormat(''));
      ay.select('.domain').remove();
      ay.selectAll('line').attr('stroke', inkColor).attr('stroke-width', 1.2);
      svg.append('line').attr('x1', s.x0).attr('x2', s.x0).attr('y1', 957).attr('y2', 1119)
        .attr('stroke', inkColor).attr('stroke-width', 1.4);

      svg.append('text').attr('x', s.x0 + 95).attr('y', 930).attr('text-anchor', 'middle')
        .attr('font-size', 23).text(s.title);
      var t = svg.append('text').attr('x', s.x0 + 5).attr('y', 969).attr('font-size', 23);
      t.append('tspan').attr('font-style', 'italic').text('θ');
      t.append('tspan').text('∈' + s.theta);

      if (k === 0) {
        semiTicks.forEach(function(v) {
          svg.append('text').attr('transform', 'translate(61,' + y(v) + ') rotate(-90)')
            .attr('text-anchor', 'middle').attr('dy', '0.35em').attr('font-size', 21).attr('fill', '#333')
            .text(v);
        });
      }
    });

    figure.yLabel(30, 1042, [['Semivariance ('], ['μ', 'i'], ['V'], ['2', 'sup'], [')', 'back']]);
    svg.append('text').attr('x', 408).attr('y', 1186).attr('text-anchor', 'middle').attr('font-size', 24)
      .text('Distance (mm)');

    // legend
    svg.append('circle').attr('cx', 556).attr('cy', 1003).attr('r', 3.5).attr('fill', '#a9a9a9');
    svg.append('rect').attr('x', 552).attr('y', 1024).attr('width', 8).attr('height', 8).attr('fill', '#2a2a2a');
    svg.append('rect').attr('x', 552).attr('y', 1048).attr('width', 8).attr('height', 8).attr('fill', '#2fb24f');
    [['Observed', 1011], ['Median', 1036], ['Model', 1060]].forEach(function(l) {
      svg.append('text').attr('x', 573).attr('y', l[1]).attr('font-size', 23).text(l[0]);
    });
  }
};

figure.init();
</script>
</body>
</html>
